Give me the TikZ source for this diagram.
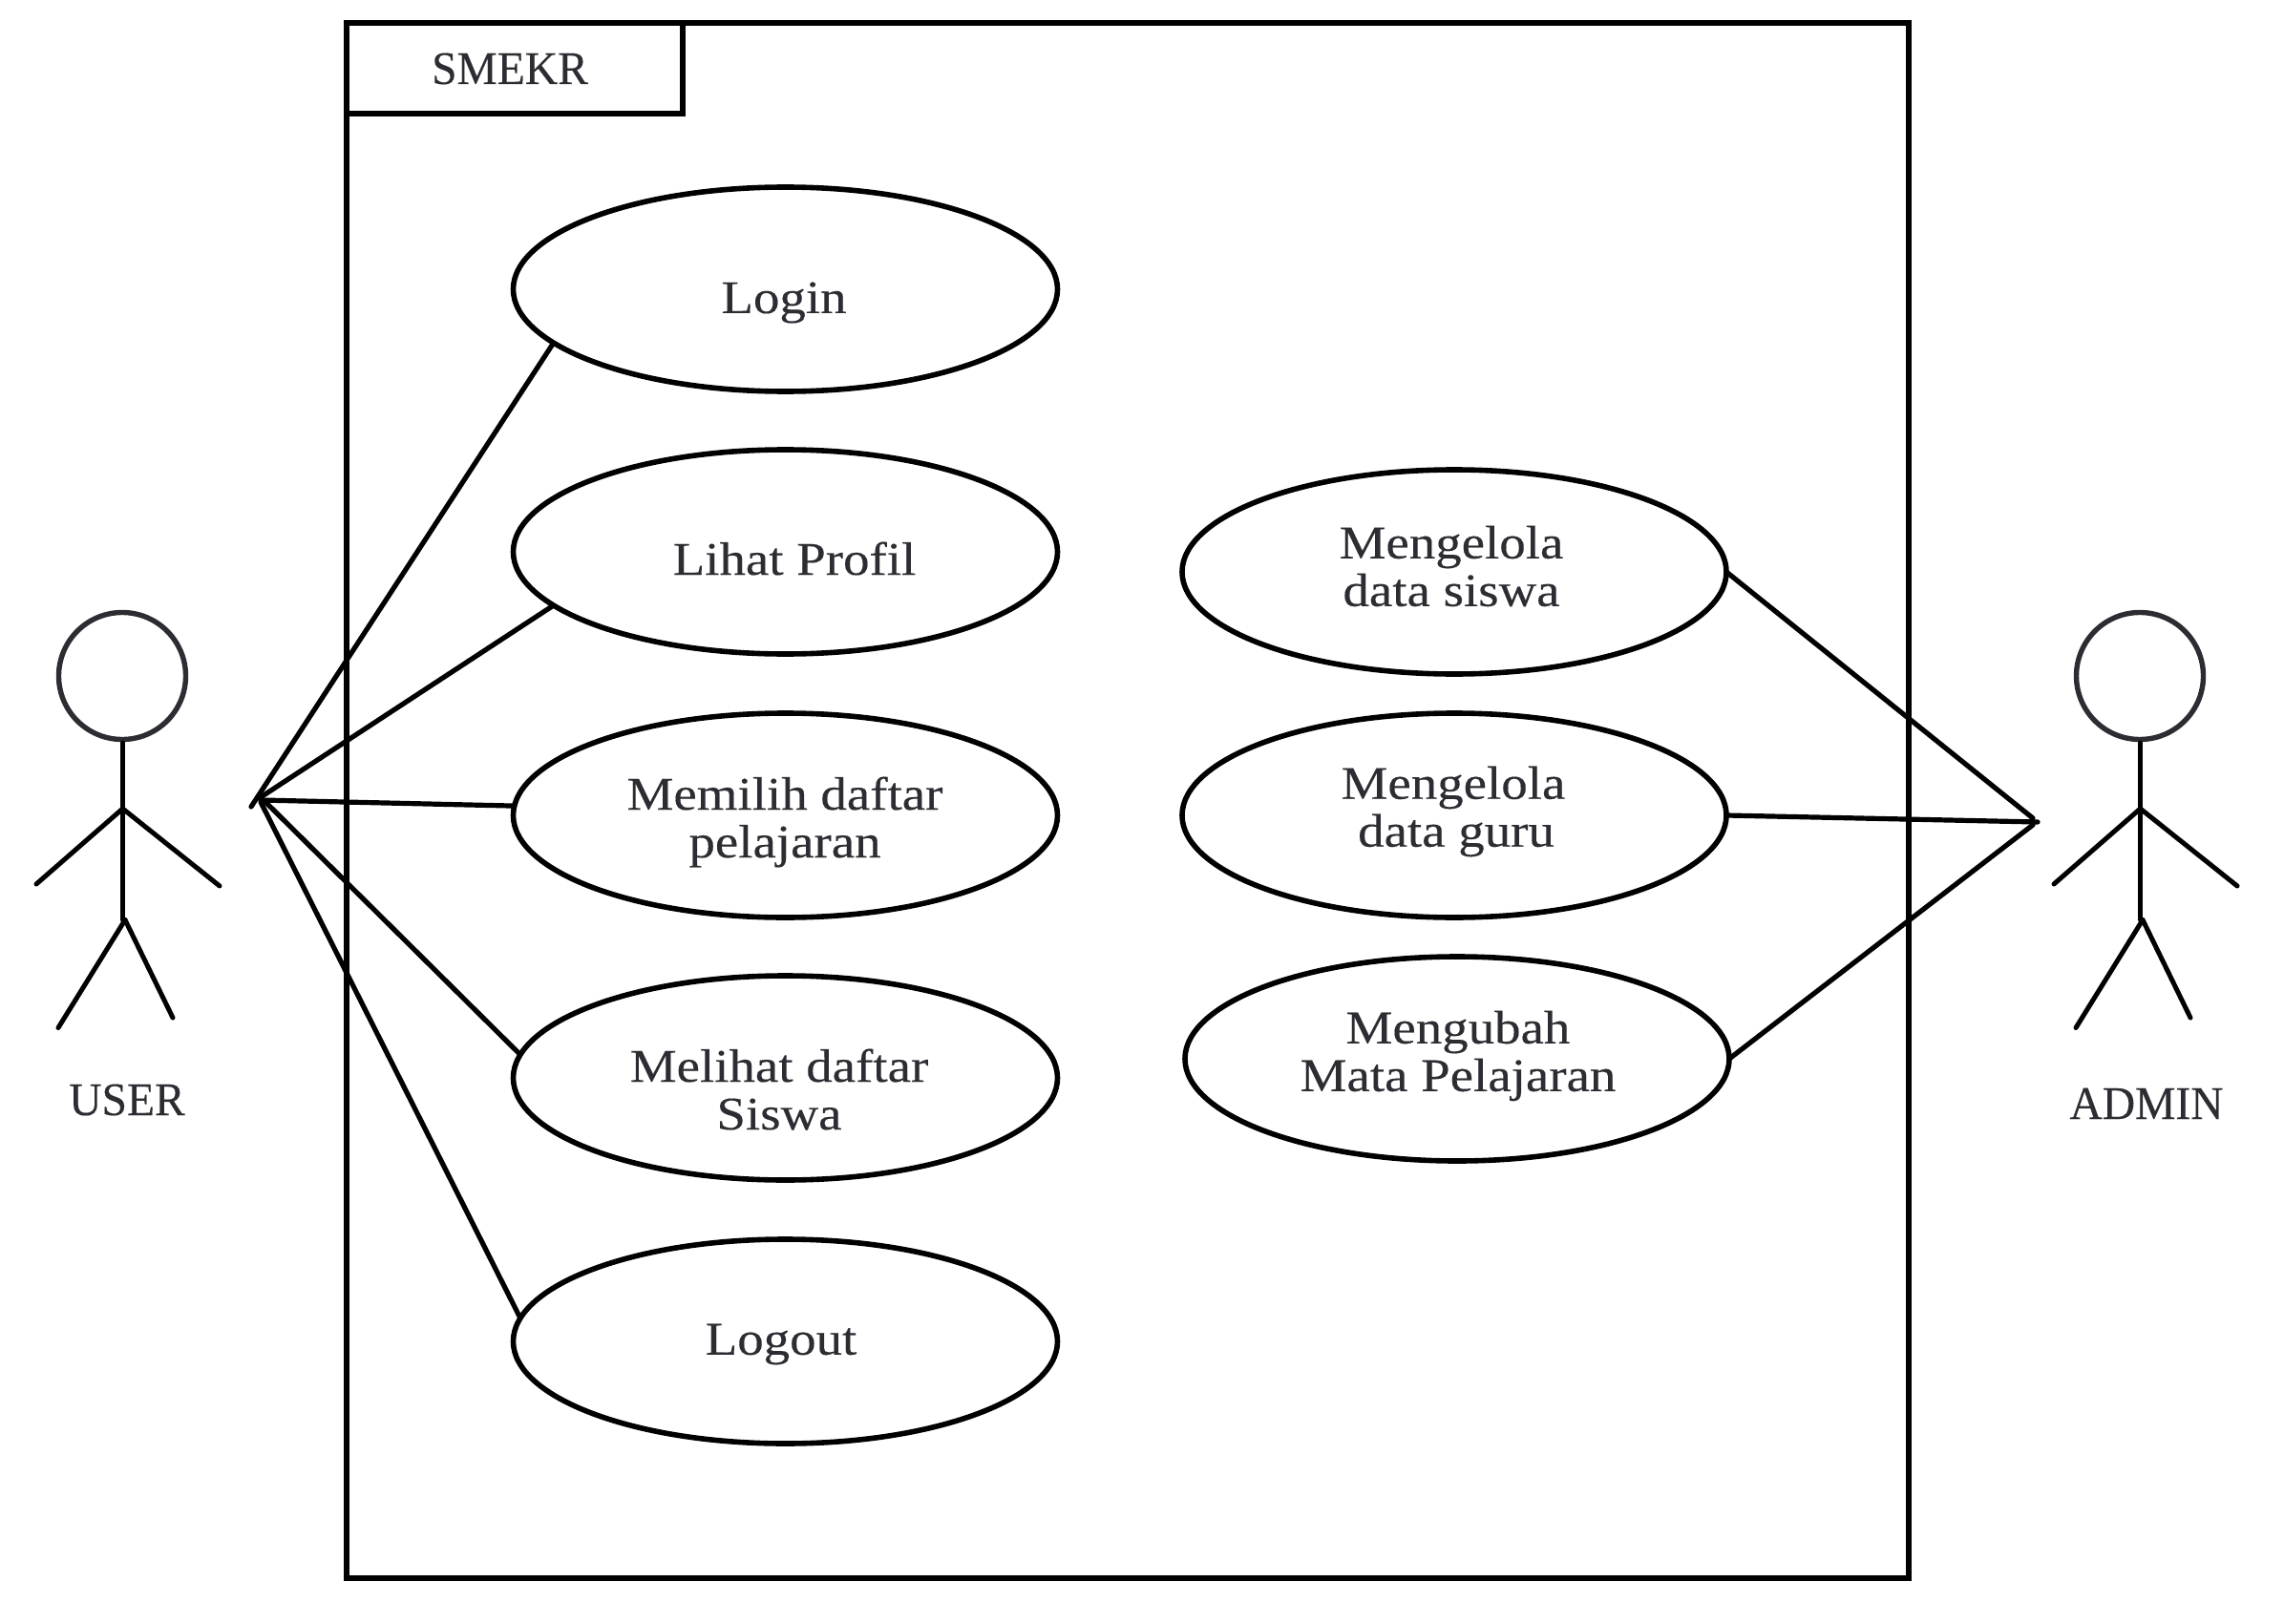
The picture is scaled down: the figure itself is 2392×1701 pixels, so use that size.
\documentclass[tikz,border=0pt]{standalone}
\usepackage{fontspec}
\setmainfont{Liberation Serif}
\newfontfamily\lowfont[FakeStretch=1.12,FakeBold=0.25]{Liberation Serif}
\newfontfamily\capfont[FakeStretch=0.97,FakeBold=0.25]{Liberation Serif}
\usetikzlibrary{shapes.geometric}
\definecolor{inkc}{HTML}{2C2C32}
\tikzset{
  x=0.5pt,y=-0.5pt,
  frameline/.style={draw=black,line width=3pt},
  usecase/.style={ellipse,draw=black,line width=2.8pt,minimum width=285pt,minimum height=107pt,inner sep=0pt,outer sep=0pt},
  assoc/.style={draw=black,line width=2.6pt,line cap=round},
  limb/.style={draw=black,line width=2.5pt,line cap=round},
  headc/.style={circle,draw=inkc,line width=2.7pt,minimum size=66.5pt,inner sep=0pt,outer sep=0pt},
  lbl/.style={text=inkc,inner sep=0pt,anchor=center,align=center,font=\lowfont\fontsize{24.5}{25}\selectfont},
  caplbl/.style={text=inkc,inner sep=0pt,anchor=base,font=\capfont\fontsize{24.5}{25}\selectfont},
}
\begin{document}
\begin{tikzpicture}
\useasboundingbox (0,0) rectangle (2392,1701);
% system frame
\draw[frameline] (363,24) rectangle (1999,1653);
\draw[frameline] (363,24) rectangle (715,119);
\node[caplbl] (title) at (534,88) {SMEKR};
% use cases
\node[usecase] (login) at (822.5,303) {};
\node[usecase] (profil) at (822.5,578) {};
\node[usecase] (memilih) at (822.5,854) {};
\node[usecase] (melihat) at (822.5,1129) {};
\node[usecase] (logout) at (822.5,1405) {};
\node[usecase] (siswa) at (1523,599) {};
\node[usecase] (guru) at (1523,854) {};
\node[usecase] (ubah) at (1526,1109) {};
% use-case texts
\node[lbl] (tlogin) at (821,317) {Login};
\node[lbl] (tprofil) at (832,585) {Lihat Profil};
\node[lbl] (tmemilih) at (822,861) {Memilih daftar\\pelajaran};
\node[lbl] (tmelihat) at (816,1141) {Melihat daftar\\Siswa};
\node[lbl] (tlogout) at (818,1408) {Logout};
\node[lbl] (tsiswa) at (1520,593) {Mengelola\\data siswa};
\node[lbl] (tguru) at (1522,850) {Mengelola\\\hspace*{3pt}data guru};
\node[lbl] (tubah) at (1527,1106) {Mengubah\\Mata Pelajaran};
% actors
\foreach \a/\dx in {user/0,admin/2113}{
  \begin{scope}[xshift=\dx*0.5pt]
    \node[headc] (head\a) at (128,708) {};
    \coordinate (neck\a) at (128.5,778);
    \coordinate (chest\a) at (128.5,847);
    \coordinate (hip\a) at (128.5,963.5);
    \coordinate (handl\a) at (38,926);
    \coordinate (handr\a) at (230,928);
    \coordinate (crotch\a) at (131,963.5);
    \coordinate (footl\a) at (61,1076.5);
    \coordinate (footr\a) at (181,1066);
    \draw[limb] (neck\a) -- (hip\a);
    \draw[limb] (chest\a) -- (handl\a);
    \draw[limb] (chest\a) -- (handr\a);
    \draw[limb] (crotch\a) -- (footl\a);
    \draw[limb] (crotch\a) -- (footr\a);
  \end{scope}
}
\node[caplbl] (tuser) at (133,1168) {USER};
\node[caplbl] (tadmin) at (2248,1172) {ADMIN};
% connectors, user side
\coordinate (ua) at (263,845);
\coordinate (ub) at (273,835);
\coordinate (uc) at (273,838);
\coordinate (ud) at (276,838);
\coordinate (ue) at (273,840);
\draw[assoc] (ua) -- (login.193.8);
\draw[assoc] (ub) -- (profil.193);
\draw[assoc] (uc) -- (memilih.178.6);
\draw[assoc] (ud) -- (melihat.175);
\draw[assoc] (ue) -- (logout.175.5);
% connectors, admin side
\coordinate (aa) at (2129,857);
\coordinate (ab) at (2134,861);
\coordinate (ac) at (2129,864);
\draw[assoc] (siswa.0.8) -- (aa);
\draw[assoc] (guru.0) -- (ab);
\draw[assoc] (ubah.0.4) -- (ac);
\end{tikzpicture}
\end{document}
